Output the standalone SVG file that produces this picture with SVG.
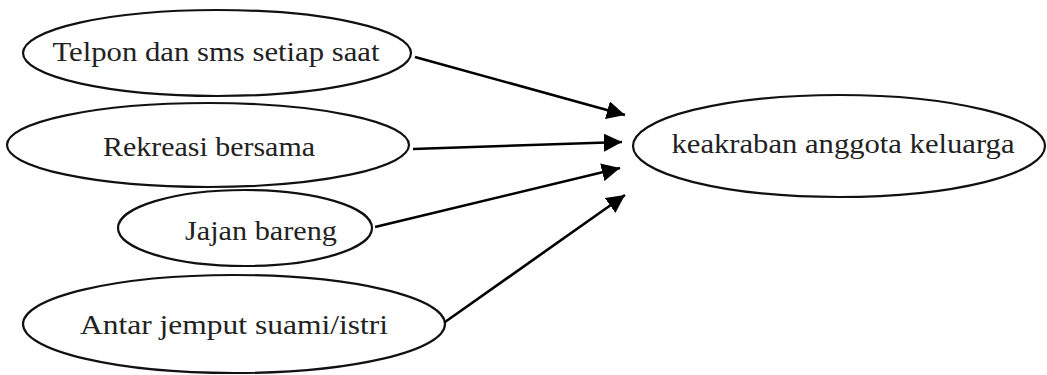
<svg xmlns="http://www.w3.org/2000/svg" width="1047" height="375" viewBox="0 0 1047 375">
  <defs>
    <marker id="arrowhead" viewBox="0 0 10 10" refX="10" refY="5" markerWidth="7" markerHeight="7" markerUnits="strokeWidth" orient="auto">
      <path d="M0,0 L10,5 L0,10 Z" fill="#000"/>
    </marker>
    <style>
      .node ellipse { fill: #fff; stroke: #111; stroke-width: 2.2; }
      .node text { font-family: "Liberation Serif", "DejaVu Serif", serif; font-size: 28px; fill: #222; text-anchor: middle; }
      .edge { stroke: #000; stroke-width: 2.6; fill: none; marker-end: url(#arrowhead); }
    </style>
  </defs>
  <rect width="1047" height="375" fill="#fff"/>

  <g id="node-telpon" class="node">
    <ellipse cx="217" cy="53" rx="194" ry="43"/>
    <text x="216" y="61" textLength="327" lengthAdjust="spacingAndGlyphs">Telpon dan sms setiap saat</text>
  </g>

  <g id="node-rekreasi" class="node">
    <ellipse cx="208" cy="145" rx="201" ry="42"/>
    <text x="209" y="156" textLength="212" lengthAdjust="spacingAndGlyphs">Rekreasi bersama</text>
  </g>

  <g id="node-jajan" class="node">
    <ellipse cx="245" cy="228" rx="127" ry="38"/>
    <text x="261" y="240" textLength="152" lengthAdjust="spacingAndGlyphs">Jajan bareng</text>
  </g>

  <g id="node-antar" class="node">
    <ellipse cx="234" cy="324" rx="211" ry="49"/>
    <text x="234" y="334" textLength="308" lengthAdjust="spacingAndGlyphs">Antar jemput suami/istri</text>
  </g>

  <g id="node-keakraban" class="node">
    <ellipse cx="839" cy="146" rx="206" ry="51"/>
    <text x="843" y="153" textLength="343" lengthAdjust="spacingAndGlyphs">keakraban anggota keluarga</text>
  </g>

  <g id="connectors">
    <line class="edge" x1="415" y1="57" x2="625" y2="115"/>
    <line class="edge" x1="413" y1="149" x2="622" y2="142"/>
    <line class="edge" x1="375" y1="227" x2="620" y2="168"/>
    <line class="edge" x1="445" y1="322" x2="625" y2="195"/>
  </g>
</svg>
